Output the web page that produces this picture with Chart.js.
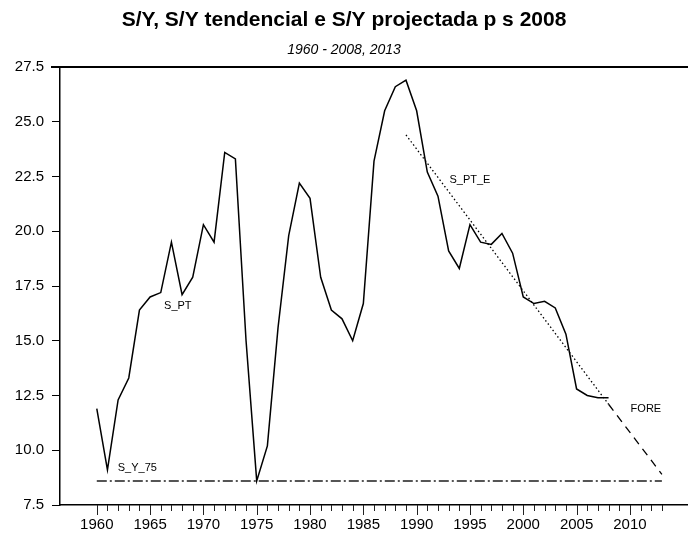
<!DOCTYPE html>
<html>
<head>
<meta charset="utf-8">
<script src="https://cdn.jsdelivr.net/npm/chart.js@4.4.1/dist/chart.umd.min.js"></script>
<style>
html,body{margin:0;padding:0;background:#fff;}
#wrap{width:688px;height:533px;position:relative;}
</style>
</head>
<body>
<div id="wrap"><canvas id="c" width="688" height="533"></canvas></div>
<script>
// ---- data ----
const years = [1960,1961,1962,1963,1964,1965,1966,1967,1968,1969,
               1970,1971,1972,1973,1974,1975,1976,1977,1978,1979,
               1980,1981,1982,1983,1984,1985,1986,1987,1988,1989,
               1990,1991,1992,1993,1994,1995,1996,1997,1998,1999,
               2000,2001,2002,2003,2004,2005,2006,2007,2008];
const sPT = [11.9, 9.1, 12.3, 13.3, 16.4, 17.0, 17.2, 19.5, 17.1, 17.9,
             20.3, 19.5, 23.6, 23.3, 15.0, 8.6, 10.2, 15.6, 19.8, 22.2,
             21.5, 17.9, 16.4, 16.0, 15.0, 16.7, 23.2, 25.5, 26.6, 26.9,
             25.5, 22.7, 21.6, 19.1, 18.3, 20.3, 19.5, 19.4, 19.9, 19.0,
             17.0, 16.7, 16.8, 16.5, 15.3, 12.8, 12.5, 12.4, 12.4];
const trendYears = [1989, 2008];
const sPTE = [24.4, 12.1];
const foreYears = [2008, 2013];
const fore = [12.1, 8.9];
const sy75Years = [1960, 2013];
const sy75 = [8.6, 8.6];
const yTicks = [7.5, 10.0, 12.5, 15.0, 17.5, 20.0, 22.5, 25.0, 27.5];
const xTickLabels = [1960, 1965, 1970, 1975, 1980, 1985, 1990, 1995, 2000, 2005, 2010];
const minorTickYears = []; for (let y = 1960; y <= 2013; y++) minorTickYears.push(y);
const seriesLabels = [
  {text: 'S_PT',   x: 1967.6, y: 16.6},
  {text: 'S_PT_E', x: 1995.0, y: 22.35},
  {text: 'FORE',   x: 2011.5, y: 11.9},
  {text: 'S_Y_75', x: 1963.8, y: 9.2}
];

const pts = (xs, vs) => xs.map((x, i) => ({x: x, y: vs[i]}));
const FONT = "'Liberation Sans', Arial, Helvetica, sans-serif";

const decor = {
  id: 'decor',
  afterDraw(chart) {
    const ctx = chart.ctx, a = chart.chartArea, xs = chart.scales.x, ys = chart.scales.y;
    ctx.save();
    // top frame line
    ctx.strokeStyle = '#000'; ctx.lineWidth = 2;
    ctx.beginPath(); ctx.moveTo(51, a.top); ctx.lineTo(a.right, a.top); ctx.stroke();
    // x ticks (minor/major)
    ctx.lineWidth = 1; ctx.strokeStyle = '#222';
    minorTickYears.forEach(yr => {
      const px = Math.round(xs.getPixelForValue(yr)) + 0.5;
      const len = (yr % 5 === 0) ? 10 : 6;
      ctx.beginPath(); ctx.moveTo(px, a.bottom); ctx.lineTo(px, a.bottom + len); ctx.stroke();
    });
    // series labels
    ctx.fillStyle = '#000'; ctx.font = "11px " + FONT;
    ctx.textAlign = 'center'; ctx.textBaseline = 'middle';
    seriesLabels.forEach(l => ctx.fillText(l.text, xs.getPixelForValue(l.x), ys.getPixelForValue(l.y)));
    ctx.restore();
  }
};

new Chart(document.getElementById('c'), {
  type: 'line',
  data: {
    datasets: [
      {label: 'S_PT', data: pts(years, sPT), borderColor: '#000', borderWidth: 1.5, pointRadius: 0, tension: 0, borderJoinStyle: 'miter'},
      {label: 'S_PT_E', data: pts(trendYears, sPTE), borderColor: '#000', borderWidth: 1.3, borderDash: [1.5, 2.5], pointRadius: 0},
      {label: 'FORE', data: pts(foreYears, fore), borderColor: '#000', borderWidth: 1.3, borderDash: [8, 6], pointRadius: 0},
      {label: 'S_Y_75', data: pts(sy75Years, sy75), borderColor: '#555', borderWidth: 2, borderDash: [10, 3, 2, 3], pointRadius: 0}
    ]
  },
  options: {
    responsive: false,
    animation: false,
    layout: {padding: {left: 0, right: 0, top: 0, bottom: 0}},
    plugins: {
      legend: {display: false},
      tooltip: {enabled: false},
      title: {display: true, text: 'S/Y, S/Y tendencial e S/Y projectada p s 2008', color: '#000',
              font: {family: FONT, size: 21, weight: 'bold'}, padding: {top: 8, bottom: 0}},
      subtitle: {display: true, text: '1960 - 2008, 2013', color: '#000',
              font: {family: FONT, size: 14, style: 'italic'}, padding: {top: 9, bottom: 8}}
    },
    scales: {
      x: {
        type: 'linear', min: 1956.55, max: 2015.45,
        grid: {display: false, drawTicks: false},
        border: {display: true, color: '#000', width: 1.5},
        afterBuildTicks: s => { s.ticks = xTickLabels.map(v => ({value: v})); },
        afterFit: s => { s.height = 28; },
        ticks: {color: '#000', padding: 11, maxRotation: 0, autoSkip: false,
                font: {family: FONT, size: 15}, callback: v => String(v)}
      },
      y: {
        type: 'linear', min: 7.5, max: 27.5,
        grid: {display: true, drawOnChartArea: false, drawTicks: true, tickLength: 8, color: '#000', lineWidth: 1},
        border: {display: true, color: '#000', width: 1.5},
        afterBuildTicks: s => { s.ticks = yTicks.map(v => ({value: v})); },
        afterFit: s => { s.width = 60; },
        ticks: {color: '#000', padding: 8, font: {family: FONT, size: 15}, callback: v => v.toFixed(1)}
      }
    }
  },
  plugins: [decor]
});
</script>
</body>
</html>
